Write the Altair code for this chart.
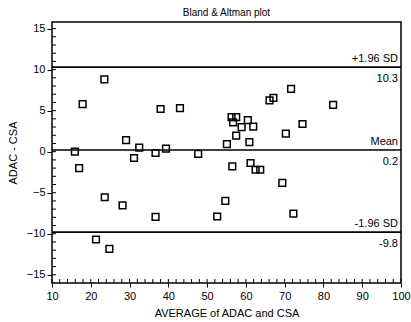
import altair as alt
import pandas as pd

avg = [15.9, 17.0, 17.9, 23.5, 21.35, 23.6, 24.8, 28.2, 29.1, 31.15, 32.5, 36.7, 36.7, 38.0,
       39.4, 43.0, 47.7, 52.6, 54.7, 55.1, 56.5, 56.3, 56.7, 57.5, 57.5, 58.9, 60.5, 60.9,
       61.2, 61.9, 62.5, 63.7, 66.1, 67.1, 69.4, 70.3, 71.65, 72.25, 74.6, 82.5]
diff = [0.0, -2.0, 5.8, 8.8, -10.7, -5.55, -11.85, -6.55, 1.42, -0.77, 0.49, -0.16, -7.95, 5.2,
        0.37, 5.3, -0.28, -7.9, -6.0, 0.93, -1.8, 4.2, 3.56, 4.2, 1.95, 3.0, 3.85, 1.17,
        -1.38, 3.04, -2.2, -2.2, 6.25, 6.56, -3.8, 2.19, 7.65, -7.55, 3.37, 5.7]

line_vals = [10.3, 0.2, -9.8]
line_names = ["+1.96 SD", "Mean", "-1.96 SD"]
line_nums = ["10.3", "0.2", "-9.8"]

x_major = list(range(10, 101, 10))
y_major = list(range(-15, 16, 5))
x_minor = list(range(10, 101, 2))
y_minor = list(range(-15, 16, 1))

pts = pd.DataFrame({"avg": avg, "diff": diff})
lines = pd.DataFrame({"y": line_vals, "name": line_names, "num": line_nums})
xm = pd.DataFrame({"v": x_minor})
ym = pd.DataFrame({"v": y_minor})

W, H = 349, 261
FONT = "Liberation Sans"

xs = alt.Scale(domain=[10, 100], nice=False, zero=False)
ys = alt.Scale(domain=[-16, 15.8], nice=False, zero=False)

x_axis = alt.Axis(values=x_major, title="AVERAGE of ADAC and CSA", grid=False, domain=False,
                  tickColor="black", tickWidth=1, tickSize=4, labelOverlap=False, labelFlush=False,
                  labelFont=FONT, labelFontSize=11, labelColor="black", labelPadding=3,
                  titleFont=FONT, titleFontSize=11, titleFontWeight="normal", titleColor="black",
                  titlePadding=6)
y_axis = alt.Axis(values=y_major, title="ADAC - CSA", grid=False, domain=False,
                  tickColor="black", tickWidth=1, tickSize=5, labelOverlap=False, labelFlush=False,
                  labelFont=FONT, labelFontSize=11, labelColor="black", labelPadding=2,
                  titleFont=FONT, titleFontSize=11, titleFontWeight="normal", titleColor="black",
                  titlePadding=8)

points = alt.Chart(pts).mark_point(shape="square", filled=False, color="black",
                                   size=45, strokeWidth=1.5, opacity=1).encode(
    x=alt.X("avg:Q", scale=xs, axis=x_axis),
    y=alt.Y("diff:Q", scale=ys, axis=y_axis),
)

x_minor_ticks = alt.Chart(xm).mark_rule(color="black", strokeWidth=1).encode(
    x=alt.X("v:Q", scale=xs, axis=x_axis), y=alt.value(H), y2=alt.value(H - 4))
y_minor_ticks = alt.Chart(ym).mark_rule(color="black", strokeWidth=1).encode(
    y=alt.Y("v:Q", scale=ys, axis=y_axis), x=alt.value(0), x2=alt.value(4))

rules = alt.Chart(lines).mark_rule(color="black", strokeWidth=1.6).encode(
    y=alt.Y("y:Q", scale=ys, axis=y_axis),
)

top_txt = alt.Chart(lines).mark_text(align="right", baseline="bottom", dy=-3, font=FONT,
                                     fontSize=11, color="black").encode(
    x=alt.value(W - 3), y=alt.Y("y:Q", scale=ys, axis=y_axis), text="name:N")
bot_txt = alt.Chart(lines).mark_text(align="right", baseline="top", dy=6, font=FONT,
                                     fontSize=11, color="black").encode(
    x=alt.value(W - 3), y=alt.Y("y:Q", scale=ys, axis=y_axis), text="num:N")

chart = alt.layer(points, x_minor_ticks, y_minor_ticks, rules, top_txt, bot_txt).properties(
    width=W, height=H,
    title=alt.Title("Bland & Altman plot", font=FONT, fontSize=10, fontWeight="normal",
                    color="black", offset=4, anchor="middle"),
    autosize=alt.AutoSizeParams(type="none"),
    padding={"left": 52, "top": 22, "right": 10, "bottom": 39},
    background="white",
).configure_view(stroke="black", strokeWidth=1.5)

chart.save("out.html", embed_options={"renderer": "svg", "actions": False})
